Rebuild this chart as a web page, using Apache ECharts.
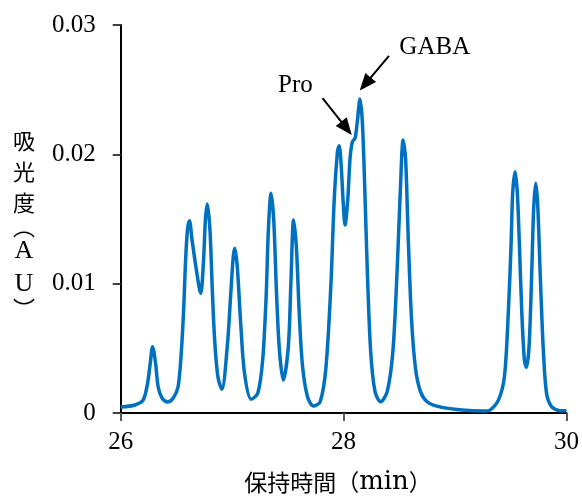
<!DOCTYPE html>
<html><head><meta charset="utf-8">
<script src="https://cdn.jsdelivr.net/npm/echarts@6/dist/echarts.min.js"></script>
<style>html,body{margin:0;padding:0;background:#fff}#c{width:582px;height:496px}</style>
</head><body><div id="c"></div>
<script>
// Retention time (min)
const timeMin = [26.0, 26.128, 26.202, 26.241, 26.265, 26.286, 26.313, 26.336, 26.372, 26.42,
  26.47, 26.515, 26.545, 26.566, 26.581, 26.599, 26.617, 26.64, 26.679, 26.718,
  26.742, 26.76, 26.777, 26.801, 26.822, 26.843, 26.872, 26.908, 26.956, 26.986,
  27.01, 27.024, 27.046, 27.075, 27.111, 27.171, 27.23, 27.274, 27.305, 27.325,
  27.349, 27.373, 27.397, 27.424, 27.459, 27.504, 27.528, 27.551, 27.576, 27.602,
  27.632, 27.676, 27.73, 27.79, 27.841, 27.886, 27.915, 27.945, 27.96, 27.978,
  27.996, 28.013, 28.038, 28.058, 28.079, 28.103, 28.123, 28.147, 28.168, 28.189,
  28.213, 28.243, 28.282, 28.332, 28.391, 28.442, 28.481, 28.511, 28.534, 28.556,
  28.579, 28.609, 28.645, 28.69, 28.749, 28.853, 29.062, 29.271, 29.316, 29.39,
  29.443, 29.479, 29.503, 29.517, 29.539, 29.559, 29.577, 29.598, 29.622, 29.64,
  29.664, 29.687, 29.705, 29.723, 29.741, 29.765, 29.792, 29.821, 29.866, 29.941, 30.0];
// Absorbance (AU)
const absorbance = [0.00046, 0.00062, 0.00101, 0.0023, 0.00384, 0.00513, 0.00384, 0.00203, 0.00114, 0.00085,
  0.00114, 0.00203, 0.00487, 0.00822, 0.01158, 0.01415, 0.01487, 0.01338, 0.01106, 0.00926,
  0.01158, 0.01493, 0.01616, 0.01415, 0.00951, 0.00565, 0.00281, 0.00183, 0.00513, 0.009,
  0.01209, 0.01274, 0.01131, 0.00719, 0.00307, 0.00106, 0.00152, 0.0041, 0.009, 0.01415,
  0.01699, 0.01493, 0.00951, 0.00487, 0.00255, 0.00513, 0.01029, 0.01493, 0.01286, 0.00771,
  0.00358, 0.00126, 0.00054, 0.00087, 0.00346, 0.0099, 0.01634, 0.02021, 0.02067, 0.01918,
  0.01634, 0.01454, 0.0166, 0.0197, 0.02098, 0.02125, 0.02253, 0.02428, 0.02253, 0.01763,
  0.01093, 0.00474, 0.00165, 0.00087, 0.00165, 0.00474, 0.01119, 0.01763, 0.02111, 0.0197,
  0.01377, 0.00732, 0.00346, 0.00165, 0.00087, 0.00049, 0.00023, 0.00015, 0.00023, 0.00101,
  0.00281, 0.00797, 0.01312, 0.01699, 0.01866, 0.01699, 0.01312, 0.00797, 0.0041, 0.00353,
  0.00513, 0.01054, 0.0157, 0.01776, 0.01622, 0.01054, 0.00487, 0.00152, 0.00049, 0.00018, 0.00018];
const xTickLabels = ['26', '28', '30'];
const yTickLabels = ['0', '0.01', '0.02', '0.03'];
const peakNames = ['Pro', 'GABA'];
const xTitle = ['保持時間', '（', 'min', '）'];
const yTitle = ['吸', '光', '度', '︵', 'A', 'U', '︶'];

const chart = echarts.init(document.getElementById('c'), null, {renderer: 'canvas'});
const seriesData = timeMin.map((t, i) => [t, absorbance[i]]);
const serif = 'Liberation Serif';
const cjk = 'Noto Sans CJK JP';

chart.setOption({
  animation: false,
  grid: {left: 120.7, right: 13.7, top: 25, bottom: 83},
  xAxis: {
    type: 'value', min: 26, max: 30, interval: 2,
    axisLine: {show: true, lineStyle: {color: '#000', width: 2}},
    axisTick: {show: true, length: 8, lineStyle: {color: '#595959', width: 2}},
    splitLine: {show: false},
    axisLabel: {
      color: '#000', fontFamily: serif, fontSize: 25, margin: 17,
      showMinLabel: true, showMaxLabel: true,
      formatter: v => xTickLabels[Math.round((v - 26) / 2)]
    }
  },
  yAxis: {
    type: 'value', min: 0, max: 0.03, interval: 0.01,
    axisLine: {show: true, lineStyle: {color: '#000', width: 2}},
    axisTick: {show: true, length: 8, lineStyle: {color: '#404040', width: 2}},
    splitLine: {show: false},
    axisLabel: {
      color: '#000', fontFamily: serif, fontSize: 25, margin: 25,
      formatter: v => yTickLabels[Math.round(v / 0.01)]
    }
  },
  graphic: [
    {
      type: 'text', left: 11, top: 130,
      style: {
        text: yTitle.map((c, i) => (i === 4 || i === 5) ? '{l|' + c + '}' : (i === 3 || i === 6) ? '{p|' + c + '}' : '{c|' + c + '}').join('\n'),
        rich: {
          c: {fontFamily: cjk, fontSize: 22, lineHeight: 31, color: '#000', align: 'center', width: 26},
          p: {fontFamily: cjk, fontSize: 22, lineHeight: 16, color: '#000', align: 'center', width: 26},
          l: {fontFamily: serif, fontSize: 26, lineHeight: 33, color: '#000', align: 'center', width: 26}
        }
      }
    },
    {
      type: 'text', x: 338, y: 482,
      style: {
        text: '{c|' + xTitle[0] + '}{c|' + xTitle[1] + '}{l|' + xTitle[2] + '}{c|' + xTitle[3] + '}',
        align: 'center', verticalAlign: 'middle',
        rich: {
          c: {fontFamily: cjk, fontSize: 23, color: '#000'},
          l: {fontFamily: 'DejaVu Serif', fontSize: 26, color: '#000'}
        }
      }
    }
  ],
  series: [{
    type: 'line',
    data: seriesData,
    showSymbol: false,
    smooth: 0.3,
    lineStyle: {color: '#0070C0', width: 3.5},
    itemStyle: {color: '#0070C0'},
    markLine: {
      silent: true,
      symbol: ['none', 'triangle'],
      symbolSize: [14, 17],
      lineStyle: {color: '#000', width: 2, type: 'solid'},
      itemStyle: {color: '#000'},
      label: {show: false},
      emphasis: {disabled: true},
      data: [
        [{coord: [28.407, 0.02761]}, {coord: [28.194, 0.02543]}],
        [{coord: [27.811, 0.02434]}, {coord: [28.026, 0.02201]}]
      ]
    },
    markPoint: {
      silent: true,
      symbol: 'circle', symbolSize: 1,
      itemStyle: {color: 'rgba(0,0,0,0)'},
      label: {show: true, position: 'inside', color: '#000', fontFamily: serif, fontSize: 25, formatter: p => p.name},
      data: [
        {name: peakNames[0], coord: [27.567, 0.02529]},
        {name: peakNames[1], coord: [28.818, 0.02827]}
      ]
    }
  }]
});
</script>
</body></html>
